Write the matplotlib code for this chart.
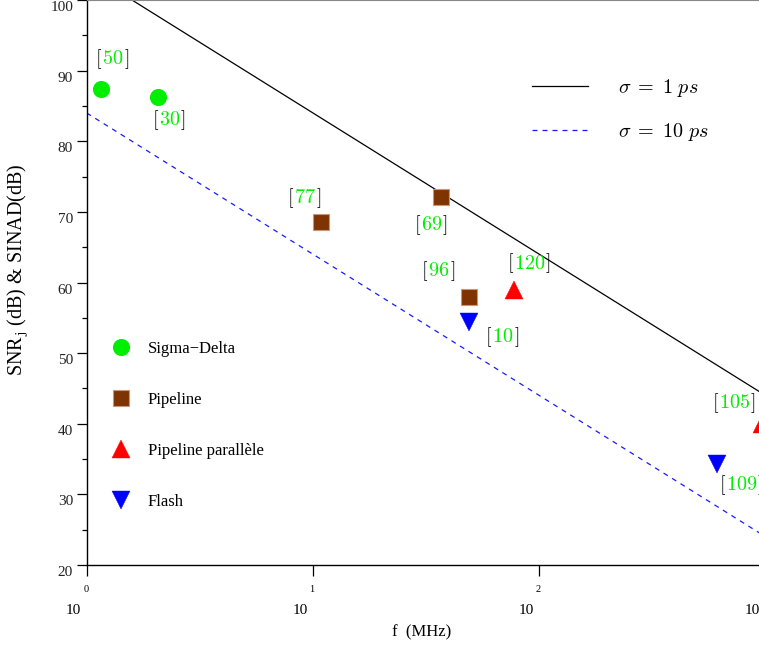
import matplotlib
matplotlib.use("Agg")
import matplotlib.pyplot as plt
import matplotlib.transforms as mtransforms
from matplotlib.ticker import NullLocator, MultipleLocator
import numpy as np

# ---------------- data ----------------
freq_sd = [1.16, 2.06]
snr_sd = [87.4, 86.2]
ref_sd = ["50", "30"]

freq_pipe = [10.8, 36.7, 49.0]
snr_pipe = [68.5, 72.1, 57.9]
ref_pipe = ["77", "69", "96"]

freq_par = [77.2, 962.0]
snr_par = [59.0, 40.0]
ref_par = ["120", "105"]

freq_flash = [49.0, 609.0]
snr_flash = [54.4, 34.3]
ref_flash = ["10", "109"]

# jitter limit lines (end points)
line_freq = [1.0, 1000.0]
snr_1ps = [104.0, 44.0]
snr_10ps = [84.0, 24.0]

x_decades = [1, 10, 100, 1000]
x_exponents = ["0", "1", "2", "3"]
y_ticks = [20, 30, 40, 50, 60, 70, 80, 90, 100]

# ---------------- style ----------------
plt.rcParams["font.family"] = ["Liberation Serif", "DejaVu Serif"]
plt.rcParams["mathtext.fontset"] = "cm"

W, H = 759, 649
fig = plt.figure(figsize=(W / 100, H / 100), dpi=100)
ax_left, ax_right, ax_top, ax_bottom = 86.7, 765.6, 0.0, 565.0
ax = fig.add_axes([ax_left / W, 1 - ax_bottom / H,
                   (ax_right - ax_left) / W, (ax_bottom - ax_top) / H])

ax.set_xscale("log")
ax.set_xlim(1, 1000)
ax.set_ylim(20, 100)

green = "#00ee00"
brown = "#7f3300"
red = "#ff0000"
blue = "#0000ff"

l1, = ax.plot(line_freq, snr_1ps, color="black", lw=0.9, label=r"$\sigma\;=\;1\ ps$")
l2, = ax.plot(line_freq, snr_10ps, color="#1a1aff", lw=0.9, dashes=(4, 4),
              label=r"$\sigma\;=\;10\ ps$")

m1, = ax.plot(freq_sd, snr_sd, "o", color=green, ms=11.3, mec=green, ls="none",
              label="Sigma\u2212Delta", clip_on=False)
m2, = ax.plot(freq_pipe, snr_pipe, "s", color=brown, ms=11.0, mec="#c8967c", mew=0.8,
              ls="none", label="Pipeline", clip_on=False)
m3, = ax.plot(freq_par, snr_par, "^", color=red, ms=13.5, mec=red, mew=0.3, ls="none",
              label="Pipeline parall\u00e8le", clip_on=True)
m4, = ax.plot(freq_flash, snr_flash, "v", color=blue, ms=13.5, mec=blue, mew=0.3,
              ls="none", label="Flash", clip_on=False)

# reference labels: offsets in pixels from the marker (dx right, dy down)
label_offsets = {
    "50": (-6, -25), "30": (-6, 28),
    "77": (-34, -19), "69": (-27, 33), "96": (-48, -21),
    "120": (-7, -21), "105": (-50, -16),
    "10": (16, 20), "109": (2, 26),
}
lab_fs = 14.5


def ref_label(xv, yv, txt):
    dx, dy = label_offsets[txt]
    t1 = ax.annotate(r"$[$", xy=(xv, yv), xytext=(dx, -dy), textcoords="offset pixels",
                     ha="left", va="baseline", fontsize=lab_fs, color="black",
                     annotation_clip=False)
    t2 = ax.annotate(r"$" + txt + r"$", xy=(1, yv), xycoords=(t1, "data"),
                     xytext=(0, -dy), textcoords="offset pixels",
                     ha="left", va="baseline", fontsize=lab_fs, color=green,
                     annotation_clip=False)
    ax.annotate(r"$]$", xy=(1, yv), xycoords=(t2, "data"),
                xytext=(0, -dy), textcoords="offset pixels",
                ha="left", va="baseline", fontsize=lab_fs, color="black",
                annotation_clip=False)


for fs_, ss_, rs_ in [(freq_sd, snr_sd, ref_sd), (freq_pipe, snr_pipe, ref_pipe),
                      (freq_par, snr_par, ref_par), (freq_flash, snr_flash, ref_flash)]:
    for f_, s_, r_ in zip(fs_, ss_, rs_):
        ref_label(f_, s_, r_)

# ---------------- axes / ticks ----------------
ax.spines["right"].set_visible(False)
ax.spines["top"].set_color("#888888")
for side in ["left", "bottom"]:
    ax.spines[side].set_linewidth(1.0)

ax.set_yticks(y_ticks)
ax.yaxis.set_minor_locator(MultipleLocator(5))
ax.tick_params(axis="y", which="major", length=7.2, width=0.9, direction="out",
               labelsize=11, pad=2.6, colors="black")
ax.tick_params(axis="y", which="minor", length=3.6, width=0.9, direction="out")
ax.yaxis.set_tick_params(labelcolor="#222222")
shift = mtransforms.ScaledTranslation(0, -6 / 100, fig.dpi_scale_trans)
for lab in ax.get_yticklabels():
    lab.set_transform(lab.get_transform() + shift)

ax.set_xticks(x_decades)
ax.xaxis.set_minor_locator(NullLocator())
ax.tick_params(axis="x", which="major", length=7.9, width=0.9, direction="out",
               labelbottom=False)

xtrans = ax.get_xaxis_transform()
for xv, ex in zip(x_decades, x_exponents):
    t_exp = mtransforms.offset_copy(xtrans, fig=fig, x=-1, y=-25, units="dots")
    ax.text(xv, 0, ex, transform=t_exp, ha="center", va="center", fontsize=7.5,
            clip_on=False)
    t_ten = mtransforms.offset_copy(xtrans, fig=fig, x=-13, y=-45.7, units="dots")
    ax.text(xv, 0, "10", transform=t_ten, ha="center", va="center", fontsize=11,
            clip_on=False)

ax.set_xlabel("f  (MHz)", fontsize=12, va="center")
ax.xaxis.set_label_coords((421.5 - ax_left) / (ax_right - ax_left), -(632 - ax_bottom) / ax_bottom)
ax.set_ylabel(r"SNR$_{\mathrm{j}}$ (dB) & SINAD(dB)", fontsize=14.5, va="center")
ax.yaxis.set_label_coords((18.5 - ax_left) / (ax_right - ax_left), (ax_bottom - 270) / ax_bottom)

# ---------------- legends ----------------
leg1 = ax.legend(handles=[l1, l2], loc="upper left",
                 bbox_to_anchor=(532 / W, 1 - 77 / H), bbox_transform=fig.transFigure,
                 frameon=False, fontsize=14.5, borderpad=0, borderaxespad=0,
                 handlelength=2.8, handletextpad=1.45, labelspacing=1.1)
ax.add_artist(leg1)

leg2 = ax.legend(handles=[m1, m2, m3, m4], loc="upper left",
                 bbox_to_anchor=(113 / W, 1 - 341 / H), bbox_transform=fig.transFigure,
                 frameon=False, fontsize=12, borderpad=0, borderaxespad=0,
                 handlelength=1.0, handletextpad=1.1, labelspacing=2.1, numpoints=1)

fig.savefig("out.png", dpi=100)
